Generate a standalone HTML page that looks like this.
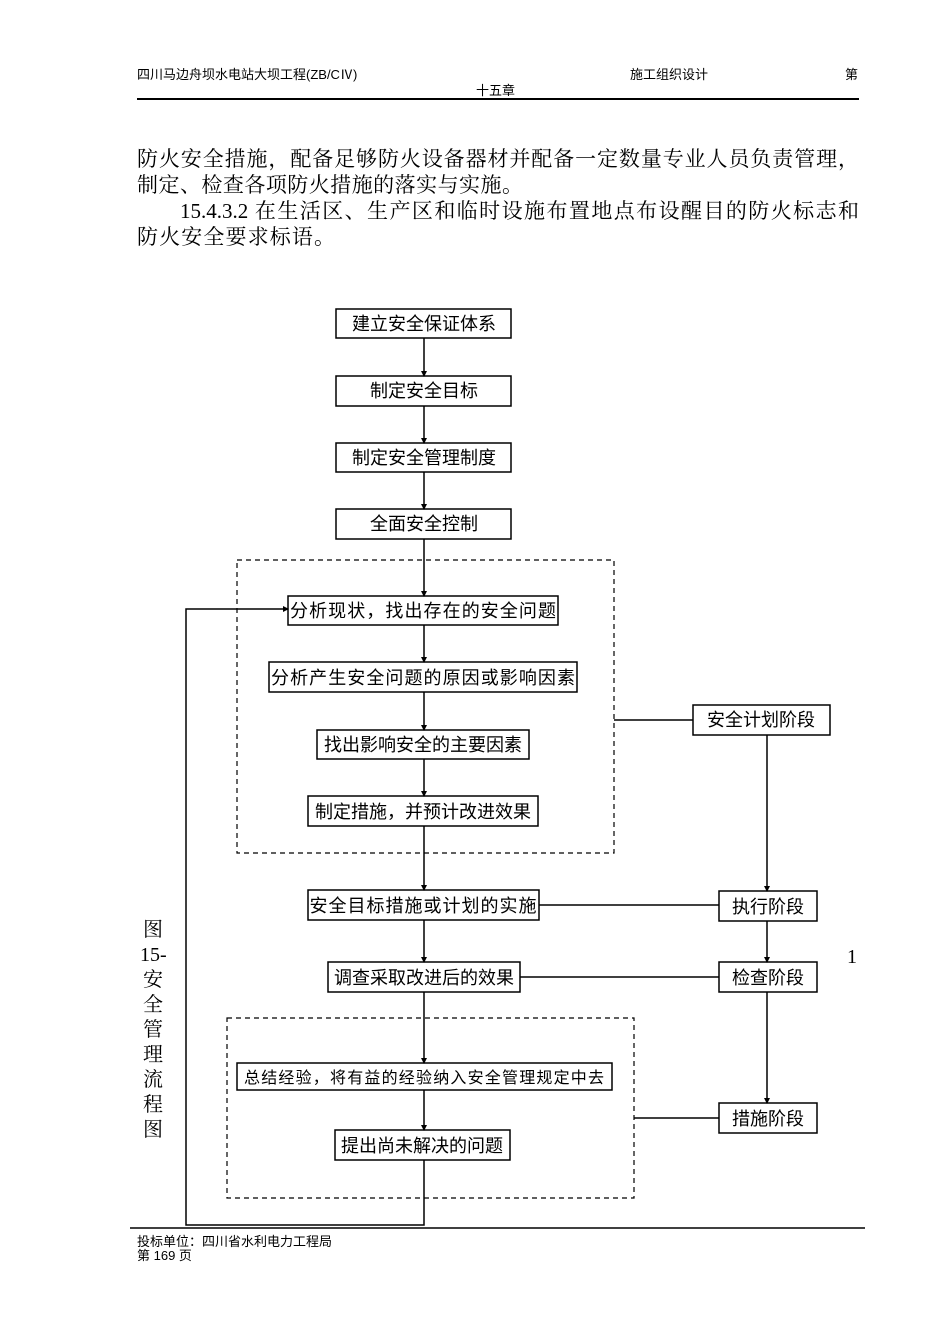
<!DOCTYPE html>
<html><head><meta charset="utf-8"><style>
body{margin:0;background:#fff;}
.p{position:relative;width:950px;height:1344px;overflow:hidden;font-family:"Liberation Serif","Noto Serif CJK SC",serif;color:#000;}
.a{position:absolute;white-space:nowrap;}
.s{font-family:"Liberation Sans","Noto Sans CJK SC",sans-serif;}
.j{position:absolute;font-size:21px;line-height:26px;text-align:justify;text-align-last:justify;white-space:nowrap;}
svg{position:absolute;left:0;top:0;}
svg text{font-family:"Liberation Sans","Noto Sans CJK SC",sans-serif;font-size:18px;}
</style></head><body><div class="p">
<div class="a s" style="left:137px;top:64px;font-size:13px">四川马边舟坝水电站大坝工程(ZB/CⅣ)</div>
<div class="a s" style="left:630px;top:64px;font-size:13px">施工组织设计</div>
<div class="a s" style="left:845px;top:64px;font-size:13px">第</div>
<div class="a s" style="left:476px;top:80px;font-size:13px">十五章</div>
<div style="position:absolute;left:137px;top:98px;width:722px;height:2px;background:#000"></div>
<div class="j" style="left:137px;top:146px;width:722px">防火安全措施，配备足够防火设备器材并配备一定数量专业人员负责管理，</div>
<div class="j" style="left:137px;top:172px;width:386px">制定、检查各项防火措施的落实与实施。</div>
<div class="j" style="left:180px;top:198px;width:679px">15.4.3.2 在生活区、生产区和临时设施布置地点布设醒目的防火标志和</div>
<div class="j" style="left:137px;top:224px;width:198px">防火安全要求标语。</div>
<svg width="950" height="1344" viewBox="0 0 950 1344">
<defs><marker id="m" markerWidth="6" markerHeight="8" refX="5" refY="4" orient="auto" markerUnits="userSpaceOnUse"><path d="M0,1 L6,4 L0,7z" fill="#000"/></marker></defs>
<g fill="#fff" stroke="#000" stroke-width="1.5">
<rect x="336" y="309" width="175" height="29"/><rect x="336" y="376" width="175" height="30"/>
<rect x="336" y="443" width="175" height="29"/><rect x="336" y="509" width="175" height="30"/>
<rect x="288" y="596" width="270" height="29"/><rect x="269" y="662" width="308" height="30"/>
<rect x="317" y="730" width="212" height="29"/><rect x="308" y="796" width="230" height="30"/>
<rect x="308" y="890" width="231" height="30"/><rect x="328" y="962" width="192" height="30"/>
<rect x="237" y="1063" width="375" height="27"/><rect x="335" y="1130" width="175" height="30"/>
<rect x="693" y="705" width="137" height="30"/><rect x="719" y="891" width="98" height="30"/>
<rect x="719" y="962" width="98" height="30"/><rect x="719" y="1103" width="98" height="30"/>
</g>
<g fill="none" stroke="#000" stroke-width="1.2" stroke-dasharray="5,4">
<rect x="237" y="560" width="377" height="293"/><rect x="227" y="1018" width="407" height="180"/>
</g>
<g stroke="#000" stroke-width="1.5" fill="none" marker-end="url(#m)">
<line x1="424" y1="338" x2="424" y2="376"/><line x1="424" y1="406" x2="424" y2="443"/>
<line x1="424" y1="472" x2="424" y2="509"/><line x1="424" y1="539" x2="424" y2="596"/>
<line x1="424" y1="625" x2="424" y2="662"/><line x1="424" y1="692" x2="424" y2="730"/>
<line x1="424" y1="759" x2="424" y2="796"/><line x1="424" y1="826" x2="424" y2="890"/>
<line x1="424" y1="920" x2="424" y2="962"/><line x1="424" y1="992" x2="424" y2="1063"/>
<line x1="424" y1="1090" x2="424" y2="1130"/>
<line x1="767" y1="735" x2="767" y2="891"/><line x1="767" y1="921" x2="767" y2="962"/>
<line x1="767" y1="992" x2="767" y2="1103"/>
<polyline points="424,1160 424,1225 186,1225 186,609 288,609"/>
</g>
<g stroke="#000" stroke-width="1.5">
<line x1="614" y1="720" x2="693" y2="720"/><line x1="539" y1="905" x2="719" y2="905"/>
<line x1="520" y1="977" x2="719" y2="977"/><line x1="634" y1="1118" x2="719" y2="1118"/>
<line x1="130" y1="1228" x2="865" y2="1228"/>
</g>
<g text-anchor="middle">
<text x="424" y="330">建立安全保证体系</text><text x="424" y="397">制定安全目标</text>
<text x="424" y="464">制定安全管理制度</text><text x="424" y="530">全面安全控制</text>
<text x="423" y="617" textLength="266">分析现状，找出存在的安全问题</text>
<text x="423" y="684" textLength="304">分析产生安全问题的原因或影响因素</text>
<text x="423" y="751">找出影响安全的主要因素</text><text x="423" y="818">制定措施，并预计改进效果</text>
<text x="423" y="912" textLength="227">安全目标措施或计划的实施</text><text x="424" y="984">调查采取改进后的效果</text>
<text x="424" y="1083" style="font-size:16px" textLength="360">总结经验，将有益的经验纳入安全管理规定中去</text>
<text x="422" y="1152">提出尚未解决的问题</text>
<text x="761" y="726">安全计划阶段</text><text x="768" y="913">执行阶段</text>
<text x="768" y="984">检查阶段</text><text x="768" y="1125">措施阶段</text>
</g>
</svg>
<div class="a" style="left:140px;top:918px;font-size:20px;line-height:25px;width:26px;text-align:center;white-space:normal">图<br>15-<br>安<br>全<br>管<br>理<br>流<br>程<br>图</div>
<div class="a" style="left:847px;top:946px;font-size:20px">1</div>
<div class="a s" style="left:137px;top:1235px;font-size:13px;line-height:14px">投标单位：四川省水利电力工程局<br>第 169 页</div>
</div></body></html>
